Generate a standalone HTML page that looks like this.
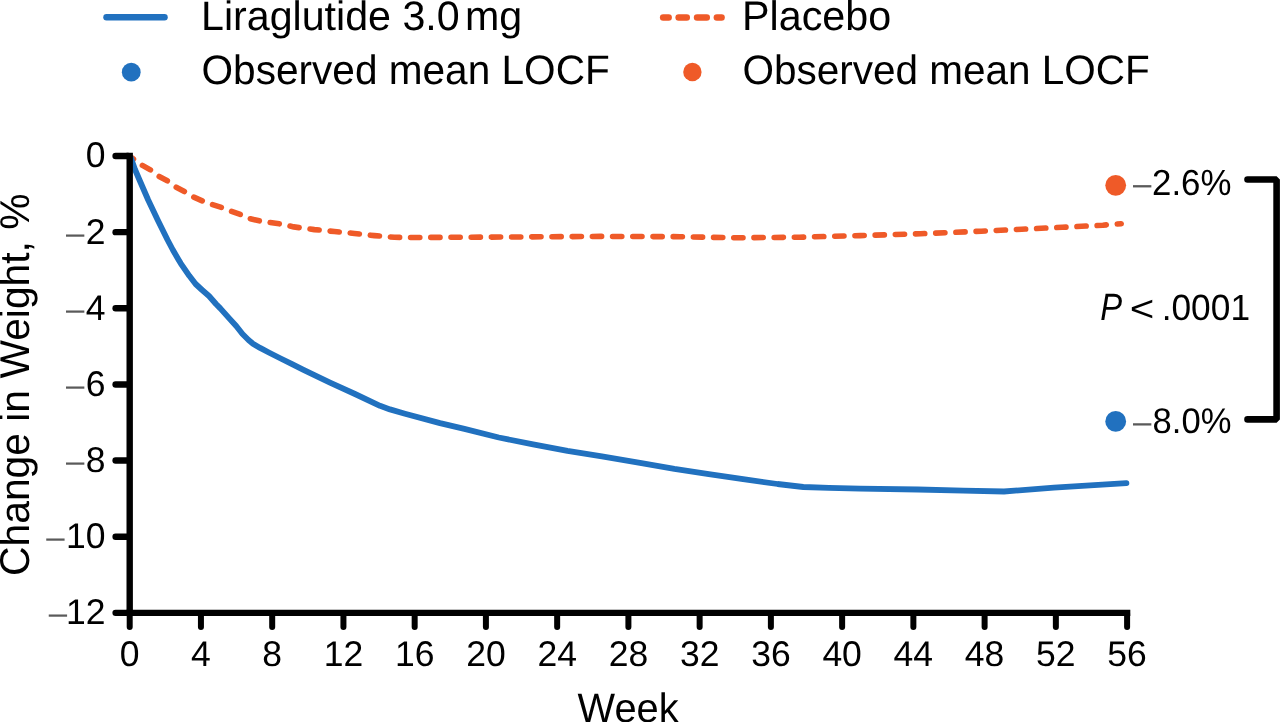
<!DOCTYPE html>
<html>
<head>
<meta charset="utf-8">
<title>Change in Weight</title>
<style>
html,body{margin:0;padding:0;background:#fff;}
body{width:1280px;height:722px;overflow:hidden;}
svg{display:block;will-change:transform;}
text{font-family:"Liberation Sans",Arial,Helvetica,sans-serif;text-rendering:geometricPrecision;}
</style>
</head>
<body>
<svg width="1280" height="722" viewBox="0 0 1280 722">
<rect width="1280" height="722" fill="#fff"/>
<line x1="106.5" y1="17.3" x2="164.5" y2="17.3" stroke="#2171bf" stroke-width="6.5" stroke-linecap="round"/>
<text transform="translate(200.97,29.80) scale(1.000,1.000)" font-size="41.20" >Liraglutide 3.0 <tspan x="264.03">mg</tspan></text>
<circle cx="131.25" cy="72.2" r="9.4" fill="#2171bf"/>
<text transform="translate(201.55,84.30) scale(1.000,1.015)" font-size="40.59" >Observed mean LOCF</text>
<line x1="663.15" y1="17.4" x2="668.65" y2="17.4" stroke="#ef5a28" stroke-width="6.5" stroke-linecap="round"/>
<line x1="678.65" y1="17.4" x2="686.75" y2="17.4" stroke="#ef5a28" stroke-width="6.5" stroke-linecap="round"/>
<line x1="697.05" y1="17.4" x2="706.75" y2="17.4" stroke="#ef5a28" stroke-width="6.5" stroke-linecap="round"/>
<line x1="716.85" y1="17.4" x2="721.55" y2="17.4" stroke="#ef5a28" stroke-width="6.5" stroke-linecap="round"/>
<text transform="translate(742.06,29.70) scale(1.000,1.000)" font-size="41.29" >Placebo</text>
<circle cx="692.4" cy="72" r="9.2" fill="#ef5a28"/>
<text transform="translate(742.51,84.30) scale(1.000,1.015)" font-size="40.49" >Observed mean LOCF</text>
<text transform="translate(28.9,384.7) rotate(-90) scale(1,1.02)" font-size="40.8" text-anchor="middle">Change in Weight, %</text>
<text transform="translate(105.60,167.40) scale(1.000,1.005)" font-size="35.50" text-anchor="end">0</text>
<text transform="translate(105.60,243.54) scale(1.000,1.005)" font-size="35.50" text-anchor="end"><tspan font-size="33" fill="#5a5a5a">&#8211;</tspan><tspan dx="1.5">2</tspan></text>
<text transform="translate(105.60,319.68) scale(1.000,1.005)" font-size="35.50" text-anchor="end"><tspan font-size="33" fill="#5a5a5a">&#8211;</tspan><tspan dx="1.5">4</tspan></text>
<text transform="translate(105.60,395.82) scale(1.000,1.005)" font-size="35.50" text-anchor="end"><tspan font-size="33" fill="#5a5a5a">&#8211;</tspan><tspan dx="1.5">6</tspan></text>
<text transform="translate(105.60,471.97) scale(1.000,1.005)" font-size="35.50" text-anchor="end"><tspan font-size="33" fill="#5a5a5a">&#8211;</tspan><tspan dx="1.5">8</tspan></text>
<text transform="translate(105.60,548.11) scale(1.000,1.005)" font-size="35.50" text-anchor="end"><tspan font-size="33" fill="#5a5a5a">&#8211;</tspan><tspan dx="1.5">10</tspan></text>
<text transform="translate(105.60,624.25) scale(1.000,1.005)" font-size="35.50" text-anchor="end"><tspan font-size="33" fill="#5a5a5a">&#8211;</tspan><tspan dx="-1.0">12</tspan></text>
<text transform="translate(129.70,665.70) scale(1.000,1.005)" font-size="35.50" text-anchor="middle">0</text>
<text transform="translate(200.94,665.70) scale(1.000,1.005)" font-size="35.50" text-anchor="middle">4</text>
<text transform="translate(272.19,665.70) scale(1.000,1.005)" font-size="35.50" text-anchor="middle">8</text>
<text transform="translate(343.43,665.70) scale(1.000,1.005)" font-size="35.50" text-anchor="middle">12</text>
<text transform="translate(414.67,665.70) scale(1.000,1.005)" font-size="35.50" text-anchor="middle">16</text>
<text transform="translate(485.91,665.70) scale(1.000,1.005)" font-size="35.50" text-anchor="middle">20</text>
<text transform="translate(557.16,665.70) scale(1.000,1.005)" font-size="35.50" text-anchor="middle">24</text>
<text transform="translate(628.40,665.70) scale(1.000,1.005)" font-size="35.50" text-anchor="middle">28</text>
<text transform="translate(699.64,665.70) scale(1.000,1.005)" font-size="35.50" text-anchor="middle">32</text>
<text transform="translate(770.89,665.70) scale(1.000,1.005)" font-size="35.50" text-anchor="middle">36</text>
<text transform="translate(842.13,665.70) scale(1.000,1.005)" font-size="35.50" text-anchor="middle">40</text>
<text transform="translate(913.37,665.70) scale(1.000,1.005)" font-size="35.50" text-anchor="middle">44</text>
<text transform="translate(984.61,665.70) scale(1.000,1.005)" font-size="35.50" text-anchor="middle">48</text>
<text transform="translate(1055.86,665.70) scale(1.000,1.005)" font-size="35.50" text-anchor="middle">52</text>
<text transform="translate(1127.10,665.70) scale(1.000,1.005)" font-size="35.50" text-anchor="middle">56</text>
<text transform="translate(577.60,722.00) scale(1.000,1.030)" font-size="39.80" >Week</text>
<polyline fill="none" stroke="#ef5a28" stroke-width="5.6" stroke-linecap="round" stroke-linejoin="round" stroke-dasharray="9.2 11.0" stroke-dashoffset="4.54" points="129.7,156.3 140.6,164.4 150.6,170 157.5,175.6 168.1,181.25 174.4,186.25 185,191.9 191.9,196.25 203.1,201.25 210.6,204.0 221.9,207.6 229.4,210.6 240.6,214.6 248.1,218.2 260,221.0 268.75,222.4 280.6,224.0 293.75,226.9 314.4,229.6 334.4,231.5 354.4,233.5 374.4,235.6 394.4,237.3 415,237.5 510,237 600,236.4 680,236.7 735,237.8 799.4,237.2 860.3,235.6 920.5,233.75 981.3,231.2 1021.8,229.2 1062.3,227.3 1102.8,225.2 1121.2,223.7"/>
<polyline fill="none" stroke="#2171bf" stroke-width="5.8" stroke-linecap="round" stroke-linejoin="round" points="130.9,158 135,169.5 139.5,180 148.2,200 157.7,220 167.6,240 172.9,250 178.7,260 180.7,263.3 189.3,275.8 195.6,284 202.1,290 209,296 216,304 220.3,308.4 229.7,318.9 236.2,326 242.5,334 248.5,340 253,343.8 260.1,347.9 269.3,352.7 280.7,358.5 292.1,364.2 303.5,369.9 330,382.6 355,394 380,405.8 390,409.4 405,413.75 440,423.1 464.4,428.9 498.8,437.5 533.1,444.4 567.5,450.9 601.9,456.4 640,462.9 674.4,468.9 708.8,474.1 743.1,479.2 777.5,484 803.3,487 829,487.8 860,488.7 918,489.5 963.3,490.6 1004,491.5 1053.9,487.7 1126.4,483.1"/>
<g stroke="#000" stroke-width="6.4" fill="none">
<line x1="129.7" y1="152.8" x2="129.7" y2="616"/>
<line x1="126.5" y1="612.85" x2="1130.3" y2="612.85"/>
<line x1="115.6" y1="156.00" x2="128" y2="156.00" stroke-linecap="round"/>
<line x1="115.6" y1="232.14" x2="128" y2="232.14" stroke-linecap="round"/>
<line x1="115.6" y1="308.28" x2="128" y2="308.28" stroke-linecap="round"/>
<line x1="115.6" y1="384.43" x2="128" y2="384.43" stroke-linecap="round"/>
<line x1="115.6" y1="460.57" x2="128" y2="460.57" stroke-linecap="round"/>
<line x1="115.6" y1="536.71" x2="128" y2="536.71" stroke-linecap="round"/>
<line x1="115.6" y1="612.85" x2="128" y2="612.85" stroke-linecap="round"/>
</g>
<g stroke="#000" stroke-width="6" stroke-linecap="round" fill="none">
<line x1="129.70" y1="614" x2="129.70" y2="627"/>
<line x1="200.94" y1="614" x2="200.94" y2="627"/>
<line x1="272.19" y1="614" x2="272.19" y2="627"/>
<line x1="343.43" y1="614" x2="343.43" y2="627"/>
<line x1="414.67" y1="614" x2="414.67" y2="627"/>
<line x1="485.91" y1="614" x2="485.91" y2="627"/>
<line x1="557.16" y1="614" x2="557.16" y2="627"/>
<line x1="628.40" y1="614" x2="628.40" y2="627"/>
<line x1="699.64" y1="614" x2="699.64" y2="627"/>
<line x1="770.89" y1="614" x2="770.89" y2="627"/>
<line x1="842.13" y1="614" x2="842.13" y2="627"/>
<line x1="913.37" y1="614" x2="913.37" y2="627"/>
<line x1="984.61" y1="614" x2="984.61" y2="627"/>
<line x1="1055.86" y1="614" x2="1055.86" y2="627"/>
<line x1="1127.10" y1="614" x2="1127.10" y2="627"/>
</g>
<circle cx="1115.7" cy="185.3" r="10.4" fill="#ef5a28"/>
<text transform="translate(0.00,194.50) scale(1.000,1.043)" font-size="34.83" ><tspan x="1133.0" font-size="33" fill="#5a5a5a">&#8211;</tspan><tspan x="1152.06">2.6%</tspan></text>
<circle cx="1115.7" cy="421.4" r="10.4" fill="#2171bf"/>
<text transform="translate(0.00,432.85) scale(1.000,1.030)" font-size="34.60" ><tspan x="1133.0" font-size="33" fill="#5a5a5a">&#8211;</tspan><tspan x="1152.6">8.0%</tspan></text>
<text transform="translate(0.00,319.50) scale(1.000,1.030)" font-size="35.30" ><tspan x="1100.2" font-size="37" font-style="italic" textLength="21.9" lengthAdjust="spacingAndGlyphs">P</tspan> <tspan x="1129.7" dy="1.1" textLength="24.6" lengthAdjust="spacingAndGlyphs">&lt;</tspan> <tspan x="1161.7" dy="-1.1">.0001</tspan></text>
<polyline fill="none" stroke="#000" stroke-width="6.6" stroke-linecap="round" stroke-linejoin="bevel" points="1247.5,179.5 1276.6,179.5 1276.6,419.4 1247.5,419.4"/>
</svg>
</body>
</html>
